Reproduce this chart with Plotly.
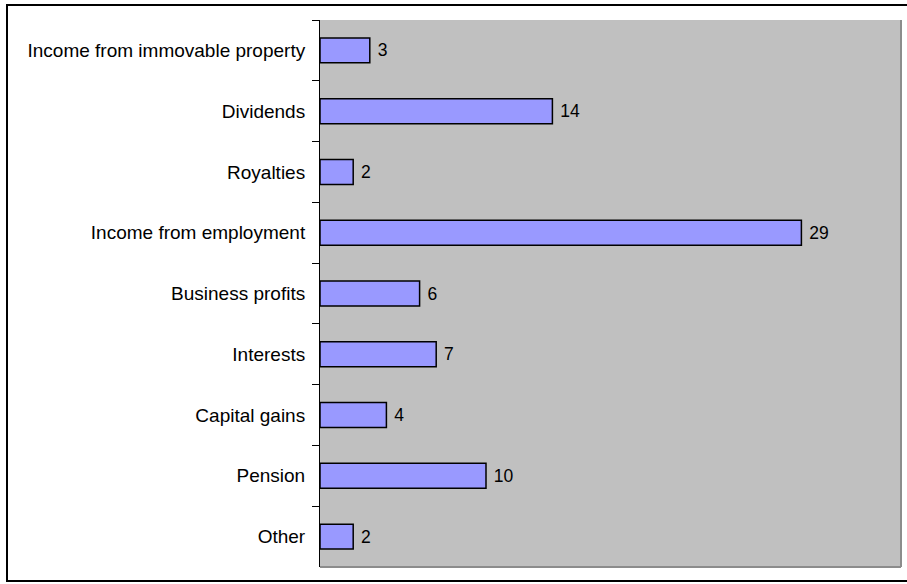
import plotly.graph_objects as go

categories = ["Income from immovable property", "Dividends", "Royalties",
              "Income from employment", "Business profits", "Interests",
              "Capital gains", "Pension", "Other"]
values = [3, 14, 2, 29, 6, 7, 4, 10, 2]

W, H = 907, 584
L, R, T, B = 320, 6, 20, 17
pw = W - L - R
ph = H - T - B

fig = go.Figure(go.Bar(
    y=categories, x=values, orientation="h",
    marker=dict(color="#9999FF", line=dict(color="black", width=1.5)),
    width=0.41,
    text=[f" {v}" for v in values], textposition="outside",
    textfont=dict(family="Liberation Sans, Arial", size=17.5, color="black"),
    cliponaxis=False,
))

def px_x(p):
    return (p - L) / pw

def px_y(p):
    return (H - B - p) / ph

fig.update_layout(
    width=W, height=H,
    margin=dict(l=L, r=R, t=T, b=B, pad=0),
    paper_bgcolor="white",
    plot_bgcolor="#C0C0C0",
    showlegend=False,
    font=dict(family="Liberation Sans, Arial", size=17, color="black"),
    xaxis=dict(range=[0, 35], showgrid=False, zeroline=False,
               showticklabels=False, ticks="", showline=False),
    yaxis=dict(type="category", categoryorder="array", categoryarray=categories,
               autorange="reversed", tickson="boundaries", ticks="outside",
               ticklen=7, tickcolor="black", tickwidth=1,
               ticklabelstandoff=10,
               showline=True, linecolor="black", linewidth=1,
               showgrid=False, zeroline=False,
               tickfont=dict(family="Liberation Sans, Arial", size=19, color="black")),
    shapes=[
        dict(type="line", xref="paper", yref="paper", x0=1, x1=1, y0=0, y1=1,
             line=dict(color="#8C8C8C", width=2)),
        dict(type="line", xref="paper", yref="paper", x0=0, x1=1, y0=0, y1=0,
             line=dict(color="#8C8C8C", width=2)),
        dict(type="rect", xref="paper", yref="paper",
             x0=px_x(7), x1=px_x(912), y0=px_y(581), y1=px_y(5),
             line=dict(color="black", width=2), layer="above"),
    ],
)

fig.write_html("out.html", config={"displayModeBar": False},
               post_script="document.body.style.margin='0';")
